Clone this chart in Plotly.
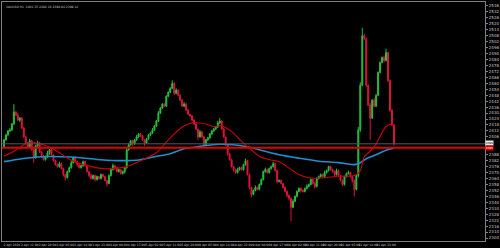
import plotly.graph_objects as go

# ---- data (hourly candles, price units) ----
first_open = 2396
close = [
    2403, 2408, 2412, 2413, 2419, 2431, 2428, 2423, 2425, 2415,
    2406, 2400, 2396, 2402, 2393, 2385, 2397, 2400, 2391, 2387,
    2383, 2386, 2390, 2393, 2388, 2382, 2378, 2376, 2379, 2374,
    2368, 2365, 2371, 2375, 2380, 2385, 2381, 2378, 2375, 2377,
    2381, 2377, 2371, 2367, 2364, 2367, 2363, 2366, 2364, 2368,
    2366, 2362, 2359, 2367, 2373, 2377, 2375, 2371, 2373, 2369,
    2371, 2375, 2393, 2398, 2402, 2399, 2403, 2406, 2409, 2407,
    2403, 2400, 2404, 2408, 2410, 2413, 2417, 2422, 2430, 2435,
    2439, 2437, 2447, 2451, 2455, 2460, 2450, 2453, 2448, 2443,
    2437, 2439, 2433, 2429, 2427, 2423, 2419, 2414, 2406, 2411,
    2406, 2398, 2403, 2405, 2409, 2412, 2414, 2416, 2420, 2422,
    2414, 2406, 2398, 2389, 2383, 2376, 2373, 2370, 2373, 2375,
    2373, 2378, 2382, 2368, 2355, 2348, 2352, 2355, 2353, 2358,
    2363, 2371, 2373, 2370, 2374, 2376, 2379, 2372, 2361, 2362,
    2359, 2355, 2351, 2347, 2344, 2335, 2341, 2346, 2351, 2354,
    2352, 2351, 2354, 2356, 2358, 2363, 2359, 2356, 2364, 2366,
    2368, 2366, 2370, 2372, 2376, 2373, 2371, 2368, 2372, 2367,
    2362, 2358, 2366, 2369, 2370, 2366, 2362, 2353, 2367, 2413,
    2458, 2508, 2505, 2458, 2438, 2425, 2443, 2437, 2448, 2471,
    2481, 2486, 2483, 2491, 2463, 2433, 2418, 2399,
]
upper_wick = [
    1, 1, 1, 2, 1, 8, 1, 2, 1, 1, 1, 1, 0, 2, 1, 1, 1, 2, 1, 0,
    1, 1, 2, 1, 1, 0, 1, 1, 2, 1, 1, 0, 1, 1, 2, 1, 1, 1, 0, 1,
    1, 1, 1, 0, 2, 1, 1, 1, 0, 1, 1, 1, 0, 1, 1, 2, 1, 1, 1, 0,
    1, 1, 1, 2, 1, 1, 1, 2, 1, 1, 1, 0, 1, 1, 1, 2, 1, 1, 2, 1,
    1, 1, 1, 1, 1, 3, 1, 2, 1, 1, 1, 2, 1, 1, 0, 1, 1, 1, 0, 2,
    1, 1, 1, 1, 1, 1, 1, 1, 2, 3, 1, 1, 0, 1, 1, 1, 1, 1, 2, 1,
    1, 1, 2, 1, 1, 1, 1, 2, 1, 1, 1, 1, 2, 1, 1, 1, 2, 1, 1, 1,
    1, 0, 1, 1, 1, 1, 2, 1, 1, 1, 1, 1, 1, 2, 1, 1, 1, 2, 1, 1,
    1, 1, 2, 1, 1, 1, 1, 1, 2, 1, 0, 1, 1, 1, 2, 1, 1, 1, 1, 3,
    3, 8, 2, 1, 1, 2, 1, 2, 1, 1, 1, 1, 2, 4, 1, 1, 1, 1,
]
lower_wick = [
    1, 1, 1, 1, 1, 1, 1, 1, 2, 1, 1, 1, 1, 1, 1, 5, 1, 1, 1, 2,
    1, 1, 1, 2, 1, 1, 1, 1, 1, 1, 2, 3, 1, 1, 1, 1, 1, 2, 1, 1,
    1, 1, 1, 2, 1, 1, 2, 1, 1, 1, 1, 1, 3, 1, 1, 1, 2, 1, 1, 1,
    1, 2, 1, 1, 1, 2, 1, 1, 1, 1, 1, 3, 1, 1, 1, 1, 1, 1, 1, 1,
    1, 1, 1, 1, 1, 1, 2, 1, 1, 1, 1, 1, 1, 1, 1, 1, 1, 1, 3, 1,
    1, 2, 1, 1, 1, 1, 1, 1, 1, 1, 1, 1, 1, 2, 1, 1, 2, 1, 1, 1,
    1, 1, 1, 1, 2, 3, 1, 1, 1, 1, 1, 1, 1, 1, 1, 1, 1, 1, 2, 1,
    1, 1, 1, 2, 2, 14, 1, 1, 1, 1, 2, 1, 1, 1, 1, 1, 1, 2, 1, 1,
    1, 1, 1, 1, 1, 1, 1, 2, 1, 1, 1, 2, 1, 1, 1, 1, 2, 7, 1, 2,
    2, 1, 1, 2, 1, 22, 1, 1, 1, 1, 1, 1, 2, 1, 2, 2, 1, 2,
]

red_ma_idx = [0, 5, 11, 15, 20, 27, 33, 42, 50, 57, 62, 68, 77, 83, 90, 96, 102,
              106, 110, 115, 119, 124, 129, 134, 139, 144, 149, 154, 160, 169,
              177, 180, 182, 185, 188, 193, 196, 197]
red_ma = [2386.5, 2391.5, 2399, 2400.3, 2398, 2391.3, 2383.5, 2377, 2374, 2374.5,
          2376, 2381, 2390, 2403, 2416, 2420.5, 2419, 2416.5, 2417, 2411.3,
          2403.5, 2394.5, 2386.5, 2383, 2381, 2374.5, 2368, 2364.7, 2364.5,
          2366.3, 2367, 2372, 2386, 2391.5, 2399, 2416.5, 2418.7, 2417.5]

blue_ma_idx = [0, 9, 19, 29, 39, 49, 59, 69, 76, 84, 91, 99, 109, 116, 124, 131,
               139, 149, 159, 169, 177, 180, 183, 188, 193, 197]
blue_ma = [2381, 2384, 2386, 2386, 2385, 2383, 2382, 2383, 2386, 2389, 2394,
           2396.5, 2398.5, 2398, 2395.5, 2392, 2388, 2384.5, 2381.5, 2380, 2378,
           2380, 2384, 2388, 2392.5, 2394.5]

level_price = 2395

price_ticks = [2304, 2310, 2316, 2322, 2328, 2334, 2340, 2346, 2352, 2358, 2364,
               2370, 2376, 2382, 2388, 2406, 2412, 2418, 2424, 2430, 2436,
               2442, 2448, 2454, 2460, 2466, 2472, 2478, 2484, 2490, 2496, 2502,
               2508, 2514, 2520, 2526, 2532, 2538]

x_labels = ["2 Apr 2024", "2 Apr 11:00", "2 Apr 20:00", "3 Apr 05:00",
            "3 Apr 14:00", "3 Apr 23:00", "4 Apr 08:00", "4 Apr 17:00",
            "5 Apr 02:00", "5 Apr 11:00", "5 Apr 20:00", "8 Apr 05:00",
            "8 Apr 14:00", "8 Apr 23:00", "9 Apr 08:00", "9 Apr 17:00",
            "10 Apr 02:00", "10 Apr 11:00", "10 Apr 20:00", "11 Apr 05:00",
            "11 Apr 14:00", "11 Apr 23:00"]
label_step = 9

title_text = "XAUUSD,H1  2401.35 2402.10 2398.84 2399.12"

# ---- build ----
n = len(close)
idx = list(range(n))
opens = [first_open] + close[:-1]
highs = [max(o, c) + u for o, c, u in zip(opens, close, upper_wick)]
lows = [min(o, c) - l for o, c, l in zip(opens, close, lower_wick)]

GREEN = "#22c23c"
RED = "#dc143c"

fig = go.Figure()
fig.add_trace(go.Candlestick(
    x=idx, open=opens, high=highs, low=lows, close=close,
    increasing=dict(line=dict(color=GREEN, width=1), fillcolor=GREEN),
    decreasing=dict(line=dict(color=RED, width=1), fillcolor=RED),
    whiskerwidth=0, showlegend=False, hoverinfo="skip",
))
fig.add_trace(go.Scatter(x=blue_ma_idx, y=blue_ma, mode="lines",
                         line=dict(color="#1e90d0", width=1.6, shape="spline", smoothing=0.8),
                         showlegend=False, hoverinfo="skip"))
fig.add_trace(go.Scatter(x=red_ma_idx, y=red_ma, mode="lines",
                         line=dict(color="#d00000", width=1.1, shape="spline", smoothing=0.8),
                         showlegend=False, hoverinfo="skip"))

# horizontal level line and bid line
fig.add_hline(y=level_price, line=dict(color="#e00000", width=2))
fig.add_hline(y=close[-1], line=dict(color="#505860", width=1))

tickvals = [4 + label_step * k for k in range(len(x_labels))]

fig.update_layout(
    width=500, height=248,
    margin=dict(l=1, r=11, t=1, b=6),
    paper_bgcolor="black", plot_bgcolor="black",
    xaxis=dict(range=[-1, 243], showgrid=False, zeroline=False,
               rangeslider=dict(visible=False),
               tickmode="array", tickvals=tickvals, ticktext=x_labels,
               tickangle=0, tickfont=dict(size=3, color="#c8c8c8", family="DejaVu Sans"),
               ticks="", showline=True, linecolor="#808080", linewidth=1, mirror=True),
    yaxis=dict(range=[2301, 2542], side="right", showgrid=False, zeroline=False,
               tickmode="array", tickvals=price_ticks,
               ticks="outside", ticklen=2, tickcolor="#808080",
               tickfont=dict(size=4, color="#c8c8c8", family="DejaVu Sans"),
               showline=True, linecolor="#808080", linewidth=1, mirror=True),
    annotations=[
        dict(text=title_text, xref="paper", yref="paper", x=0.004, y=0.995,
             xanchor="left", yanchor="top", showarrow=False,
             font=dict(size=3, color="#c8c8c8", family="DejaVu Sans")),
        dict(text=str(close[-1]), xref="paper", yref="y", x=1.0, y=close[-1] + 0.6,
             xanchor="left", yanchor="middle", showarrow=False, bgcolor="#e8e8e8",
             borderpad=0, font=dict(size=2.8, color="black", family="DejaVu Sans")),
        dict(text=str(level_price), xref="paper", yref="y", x=1.0, y=level_price - 0.6,
             xanchor="left", yanchor="middle", showarrow=False, bgcolor="#e00000",
             borderpad=0, font=dict(size=2.8, color="white", family="DejaVu Sans")),
    ],
)

fig.write_html("out.html")
